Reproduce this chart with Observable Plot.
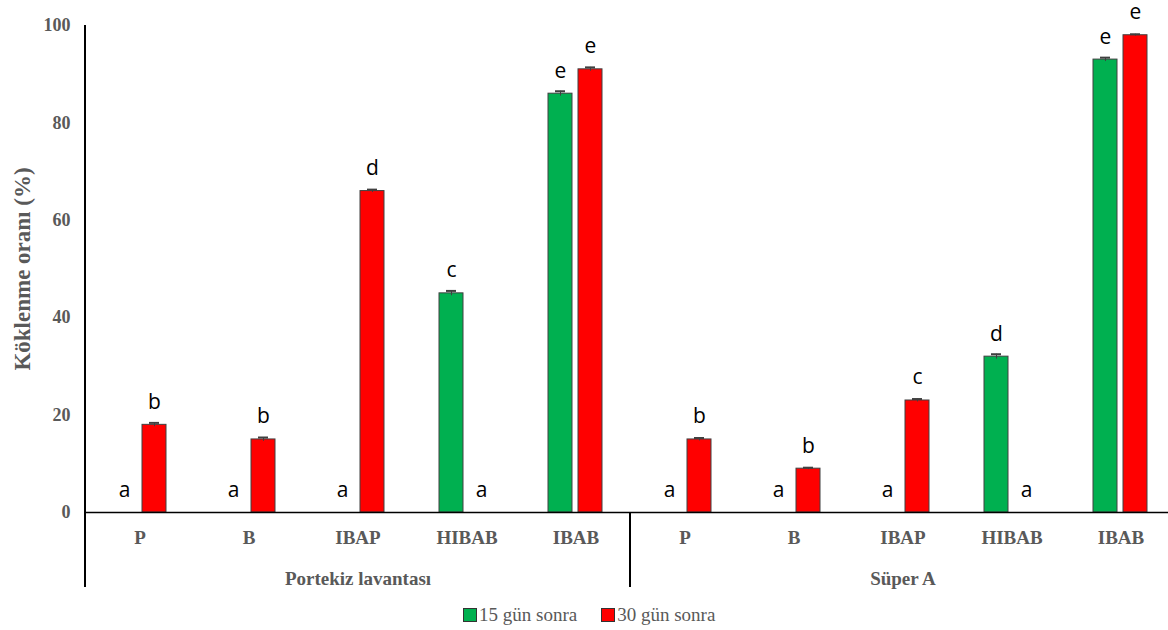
<!DOCTYPE html>
<html>
<head>
<meta charset="utf-8">
<script src="https://cdn.jsdelivr.net/npm/d3@7"></script>
<script src="https://cdn.jsdelivr.net/npm/@observablehq/plot@0.6"></script>
<style>
  html, body { margin: 0; padding: 0; background: white; }
  #legend { display: flex; align-items: center; height: 30px; margin-left: 463px;
    font-family: 'Liberation Serif', 'Times New Roman', serif; font-size: 19px; color: #595959; }
  .sw { width: 12px; height: 12px; border: 1px solid #333; margin-right: 2px; }
  .item { display: flex; align-items: center; margin-right: 24px; }
</style>
</head>
<body>
<div id="chart"></div>
<div id="legend"></div>
<script>
const groups = ["Portekiz lavantası", "Süper A"];
const treatments = ["P", "B", "IBAP", "HIBAB", "IBAB"];
const seriesNames = ["15 gün sonra", "30 gün sonra"];
const colors = ["#00B050", "#FF0000"];

const portekiz15 = [0, 0, 0, 45, 86];
const portekiz30 = [18, 15, 66, 0, 91];
const super15 = [0, 0, 0, 32, 93];
const super30 = [15, 9, 23, 0, 98];

const portekiz15Letters = ["a", "a", "a", "c", "e"];
const portekiz30Letters = ["b", "b", "d", "a", "e"];
const super15Letters = ["a", "a", "a", "d", "e"];
const super30Letters = ["b", "b", "c", "a", "e"];

const portekiz15Err = [0, 0, 0, 0.5, 0.5];
const portekiz30Err = [0.4, 0.4, 0.3, 0, 0.4];
const super15Err = [0, 0, 0, 0.5, 0.4];
const super30Err = [0.3, 0.2, 0.3, 0, 0.2];

const yTicks = [0, 20, 40, 60, 80, 100];

const table = [
  [groups[0], portekiz15, portekiz30, portekiz15Letters, portekiz30Letters, portekiz15Err, portekiz30Err],
  [groups[1], super15, super30, super15Letters, super30Letters, super15Err, super30Err]
];
const keys = [];
const rows = [];
for (const [g, v15, v30, l15, l30, e15, e30] of table) {
  treatments.forEach((t, i) => {
    const key = g + "|" + t;
    keys.push(key);
    rows.push({key, group: g, treatment: t, series: seriesNames[0], value: v15[i], letter: l15[i], err: e15[i]});
    rows.push({key, group: g, treatment: t, series: seriesNames[1], value: v30[i], letter: l30[i], err: e30[i]});
  });
}
const groupRows = groups.map(g => ({group: g, key: g + "|" + treatments[2]}));
const nonzero = rows.filter(d => d.value > 0);

const plot = Plot.plot({
  width: 1168,
  height: 600,
  marginLeft: 84,
  marginRight: -8,
  marginTop: 25,
  marginBottom: 88,
  style: {fontFamily: "'Liberation Serif', 'Times New Roman', serif", fontWeight: "bold", color: "#595959", background: "white"},
  fx: {domain: keys, padding: 0, label: null},
  x: {domain: seriesNames, paddingInner: 0.19, paddingOuter: 0.86, axis: null},
  y: {domain: [0, 100], label: null},
  color: {domain: seriesNames, range: colors},
  marks: [
    Plot.axisY({ticks: yTicks, tickSize: 0, tickPadding: 15, fontSize: 18, label: null}),
    Plot.axisFx({anchor: "bottom", tickSize: 0, tickPadding: 18, fontSize: 19, label: null, tickFormat: k => k.split("|")[1]}),
    Plot.barY(nonzero, {fx: "key", x: "series", y: "value", fill: "series", stroke: "#404040", strokeWidth: 1}),
    Plot.ruleX(nonzero, {fx: "key", x: "series", y1: d => d.value - d.err, y2: d => d.value + d.err, stroke: "#404040"}),
    Plot.tickY(nonzero, {fx: "key", x: "series", y: d => d.value + d.err, stroke: "#404040", strokeWidth: 2, inset: 7}),
    Plot.ruleY([0], {stroke: "black", strokeWidth: 1.5}),
    Plot.text(rows, {fx: "key", x: "series", y: "value", text: "letter", lineAnchor: "bottom", dy: -16,
      fontFamily: "'Open Sans', sans-serif", fontWeight: "normal", fontSize: 21, fill: "black"}),
    Plot.text(groupRows, {fx: "key", text: "group", frameAnchor: "bottom", lineAnchor: "middle", dy: 66, fontSize: 19}),
    Plot.text(["Köklenme oranı (%)"], {facet: "super", frameAnchor: "left", textAnchor: "middle", rotate: -90, dx: -63, fontSize: 23})
  ]
});

// axis lines drawn from the plot's own scales
const ys = plot.scale("y"), fxs = plot.scale("fx");
const svg = d3.select(plot);
const y0 = ys.apply(0), yTop = ys.apply(100), yBottom = y0 + 75;
svg.append("line").attr("x1", fxs.apply(keys[0])).attr("x2", fxs.apply(keys[0]))
  .attr("y1", yTop).attr("y2", yBottom).attr("stroke", "black").attr("stroke-width", 2);
const sepKey = groups[1] + "|" + treatments[0];
svg.append("line").attr("x1", fxs.apply(sepKey)).attr("x2", fxs.apply(sepKey))
  .attr("y1", y0).attr("y2", yBottom).attr("stroke", "black").attr("stroke-width", 2);

document.getElementById("chart").append(plot);

const legend = d3.select("#legend");
seriesNames.forEach((s, i) => {
  const it = legend.append("div").attr("class", "item");
  it.append("div").attr("class", "sw").style("background", colors[i]);
  it.append("span").text(s);
});
</script>
</body>
</html>
